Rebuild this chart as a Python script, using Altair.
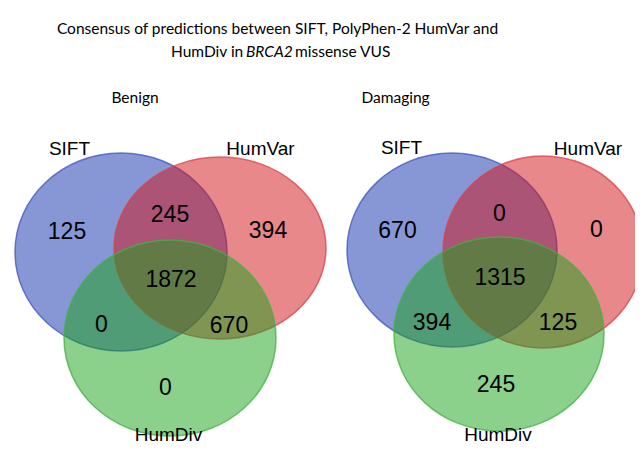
import altair as alt
import pandas as pd

# ---------------- data ----------------
panels = ["Benign", "Damaging"]
set_names = ["SIFT", "HumVar", "HumDiv"]
regions = ["SIFT only", "SIFT & HumVar", "HumVar only", "All three",
           "SIFT & HumDiv", "HumVar & HumDiv", "HumDiv only"]
benign_counts = [125, 245, 394, 1872, 0, 670, 0]
damaging_counts = [670, 0, 0, 1315, 394, 125, 245]
title_line1 = "Consensus of predictions between SIFT, PolyPhen-2 HumVar and"
title_line2_parts = ["HumDiv in", "BRCA2", "missense VUS"]

# ---------------- layout (page pixels) ----------------
OX, OY = 8, 8
W, H = 627, 437
ellipse_layout = {
    "Benign":   [(121, 252, 106, 99), (220, 248, 106, 91), (170, 338, 106, 98)],
    "Damaging": [(452, 250, 105, 97), (543, 252, 100, 96), (499, 334, 105, 97)],
}
fill_colors = ["#0f2fab", "#d11115", "#17a117"]
stroke_colors = ["#3f56c0", "#d8434a", "#45b045"]
set_label_pos = {
    "Benign":   [(69.5, 155), (260.5, 155), (168.5, 441)],
    "Damaging": [(401.5, 154), (588, 155), (498, 441)],
}
number_pos = {
    "Benign":   [(67, 239), (170, 222), (268, 238), (171, 287), (101.5, 332), (229, 333), (165.5, 395)],
    "Damaging": [(397.5, 238), (499.5, 221), (596.5, 237), (500, 285), (432, 330), (558, 330), (496, 392)],
}
panel_title_pos = {"Benign": (135, 103), "Damaging": (395.5, 103)}
title1_pos = (277.5, 34)
title2_left = [(171, 57), (246, 57), (295, 57)]
TITLE_FONT, TITLE_SIZE = "Lato", 15.5


def ellipse_path(k):
    c = 0.5523
    return (f"M-1,0C-1,{-c*k:.4f},{-c:.4f},{-k:.4f},0,{-k:.4f}"
            f"C{c:.4f},{-k:.4f},1,{-c*k:.4f},1,0"
            f"C1,{c*k:.4f},{c:.4f},{k:.4f},0,{k:.4f}"
            f"C{-c:.4f},{k:.4f},-1,{c*k:.4f},-1,0Z")


counts = {"Benign": benign_counts, "Damaging": damaging_counts}

ell_rows, lab_rows, num_rows = [], [], []
for p in panels:
    for i, s in enumerate(set_names):
        cx, cy, rx, ry = ellipse_layout[p][i]
        ell_rows.append(dict(panel=p, set=s, x=cx, y=cy, size=(2 * rx) ** 2,
                             shape=ellipse_path(ry / rx), fill=fill_colors[i],
                             stroke=stroke_colors[i], order=i))
        lx, ly = set_label_pos[p][i]
        lab_rows.append(dict(text=s, x=lx, y=ly))
    for j, r in enumerate(regions):
        nx, ny = number_pos[p][j]
        num_rows.append(dict(text=str(counts[p][j]), region=r, x=nx, y=ny))

ell_df = pd.DataFrame(ell_rows)
lab_df = pd.DataFrame(lab_rows)
num_df = pd.DataFrame(num_rows)
ptitle_df = pd.DataFrame([dict(text=p, x=panel_title_pos[p][0], y=panel_title_pos[p][1]) for p in panels])
t1_df = pd.DataFrame([dict(text=title_line1, x=title1_pos[0], y=title1_pos[1])])
t2n_df = pd.DataFrame([dict(text=title_line2_parts[i], x=title2_left[i][0], y=title2_left[i][1]) for i in (0, 2)])
t2i_df = pd.DataFrame([dict(text=title_line2_parts[1], x=title2_left[1][0], y=title2_left[1][1])])

xs = alt.Scale(domain=[OX, OX + W], nice=False, zero=False)
ys = alt.Scale(domain=[OY + H, OY], nice=False, zero=False)
X = alt.X("x:Q", scale=xs, axis=None)
Y = alt.Y("y:Q", scale=ys, axis=None)

ellipses = alt.Chart(ell_df).mark_point(
    filled=True, opacity=1, fillOpacity=0.5, strokeOpacity=0.75, strokeWidth=1.5
).encode(
    x=X, y=Y,
    size=alt.Size("size:Q", scale=None),
    shape=alt.Shape("shape:N", scale=None),
    fill=alt.Fill("fill:N", scale=None),
    stroke=alt.Stroke("stroke:N", scale=None),
    order=alt.Order("order:Q"),
)


def text_layer(df, font, size, style="normal", align="center"):
    return alt.Chart(df).mark_text(
        font=font, fontSize=size, fontStyle=style, align=align,
        baseline="alphabetic", color="black"
    ).encode(x=X, y=Y, text="text:N")


chart = alt.layer(
    ellipses,
    text_layer(lab_df, "Liberation Sans", 19),
    text_layer(num_df, "Liberation Sans", 23),
    text_layer(ptitle_df, TITLE_FONT, TITLE_SIZE),
    text_layer(t1_df, TITLE_FONT, TITLE_SIZE),
    text_layer(t2n_df, TITLE_FONT, TITLE_SIZE, align="left"),
    text_layer(t2i_df, TITLE_FONT, TITLE_SIZE, "italic", align="left"),
).properties(
    width=W, height=H, padding=0,
    autosize=alt.AutoSizeParams(type="none"),
    background="white",
).configure_view(strokeWidth=0)

chart.save("out.html", embed_options={"renderer": "svg", "actions": False})
